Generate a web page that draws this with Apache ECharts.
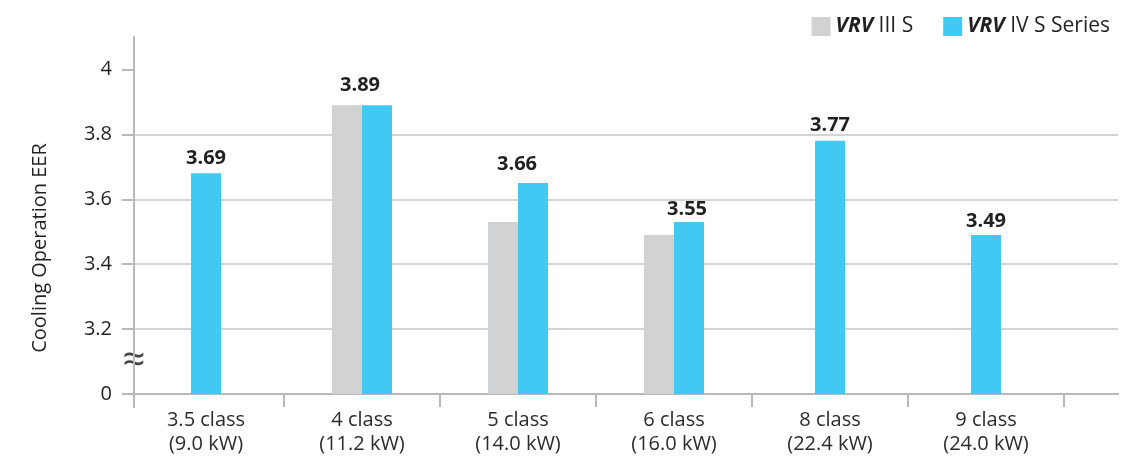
<!DOCTYPE html>
<html lang="en">
<head>
  <meta charset="UTF-8">
  <title>VRV S Cooling EER</title>
  <script src="https://cdn.jsdelivr.net/npm/echarts@6/dist/echarts.min.js"></script>
  <style>html, body { margin: 0; padding: 0; background: #fff; }</style>
</head>
<body>
  <div id="chart" style="width: 1148px; height: 459px"></div>
  <script>
    // data
    const categories = ['3.5 class\n(9.0 kW)', '4 class\n(11.2 kW)', '5 class\n(14.0 kW)', '6 class\n(16.0 kW)', '8 class\n(22.4 kW)', '9 class\n(24.0 kW)']
    const vrv3 = [null, 3.89, 3.53, 3.49, null, null]
    const vrv4 = [3.68, 3.89, 3.65, 3.53, 3.78, 3.49]
    const vrv4Labels = ['3.69', '3.89', '3.66', '3.55', '3.77', '3.49']
    const yTicks = [3.0, 3.2, 3.4, 3.6, 3.8, 4.0]
    const seriesNames = ['VRV III S', 'VRV IV S Series']

    const font = 'Open Sans'
    const grey = '#d1d2d4'
    const blue = '#41c8f3'
    const axisGrey = '#b9b9bd'

    // blue bars sit next to a grey one only where VRV III S has a value
    const paired = vrv4.map((v, i) => vrv3[i] == null ? null : v)
    const single = vrv4.map((v, i) => vrv3[i] == null ? v : null)
    // label nudges so they sit like the original
    const labelShift = [[0, 0], [-17, -5], [-16, -4], [-2, 2], [0, -1], [0, 1]]

    const barLabel = {
      show: true,
      position: 'top',
      distance: 5,
      fontFamily: font,
      fontSize: 20,
      fontWeight: 'bold',
      color: '#231f20',
      formatter: p => vrv4Labels[p.dataIndex]
    }

    const myChart = echarts.init(document.getElementById('chart'))
    const option = {
      animation: false,
      textStyle: { fontFamily: font },
      legend: {
        data: seriesNames,
        right: 33,
        top: 11,
        icon: 'rect',
        itemWidth: 19,
        itemHeight: 19,
        itemGap: 30,
        textStyle: {
          fontSize: 21,
          color: '#231f20',
          rich: { b: { fontSize: 21, fontWeight: 'bold', fontStyle: 'italic', color: '#231f20' } }
        },
        formatter: n => n.replace('VRV', '{b|VRV}')
      },
      grid: [
        { left: 134, right: 30, top: 37, bottom: 65 },
        { left: 128, width: 936, top: 37, bottom: 65 }
      ],
      xAxis: [
        {
          gridIndex: 0, type: 'value', min: 0, max: 1,
          axisLine: { show: true, lineStyle: { color: axisGrey, width: 2 } },
          axisTick: { show: true, length: 14, customValues: [0], lineStyle: { color: axisGrey, width: 2 } },
          axisLabel: { show: false },
          splitLine: { show: false }
        },
        {
          gridIndex: 1, type: 'category', data: categories,
          axisLine: { show: false },
          axisTick: { show: true, length: 13, interval: i => i !== 0, lineStyle: { color: axisGrey, width: 2 } },
          axisLabel: { fontSize: 20, color: '#2b2b2b', lineHeight: 24, margin: 14 }
        },
        { gridIndex: 1, type: 'category', data: categories, show: false }
      ],
      yAxis: [
        {
          gridIndex: 0, type: 'value', min: 3, max: 4.1, interval: 0.2,
          axisLine: { show: true, lineStyle: { color: axisGrey, width: 2 } },
          axisTick: { show: true, length: 12, customValues: yTicks, lineStyle: { color: axisGrey, width: 2 } },
          axisLabel: {
            customValues: yTicks,
            margin: 22,
            fontSize: 20,
            color: '#231f20',
            formatter: v => Math.abs(v - 3) < 1e-6 ? '0' : String(+v.toFixed(1))
          },
          splitLine: { show: true, showMaxLine: false, lineStyle: { color: '#c6c6c6', width: 1.5 } }
        },
        { gridIndex: 1, type: 'value', min: 3, max: 4.1, show: false, splitLine: { show: false } }
      ],
      series: [
        {
          name: seriesNames[0], type: 'bar', xAxisIndex: 1, yAxisIndex: 1,
          barWidth: 30, barGap: 0, itemStyle: { color: grey },
          data: vrv3
        },
        {
          name: seriesNames[1], type: 'bar', xAxisIndex: 1, yAxisIndex: 1,
          barWidth: 30, barGap: 0, itemStyle: { color: blue },
          label: barLabel,
          data: paired.map((v, i) => ({ value: v, label: { offset: labelShift[i] } }))
        },
        {
          name: seriesNames[1], type: 'bar', xAxisIndex: 2, yAxisIndex: 1,
          barWidth: 30, itemStyle: { color: blue },
          label: barLabel,
          data: single.map((v, i) => ({ value: v, label: { offset: labelShift[i] } }))
        }
      ]
    }
    myChart.setOption(option)

    // axis title and the scale-break mark
    const breakY = myChart.convertToPixel({ yAxisIndex: 0 }, 3.1)
    const axisX = myChart.convertToPixel({ xAxisIndex: 0 }, 0)
    myChart.setOption({
      graphic: [
        {
          type: 'text', x: 40, y: 248, rotation: Math.PI / 2,
          style: { text: 'Cooling Operation EER', fontFamily: font, fontSize: 20, fill: '#231f20', align: 'center', verticalAlign: 'middle' }
        },
        {
          type: 'text', x: axisX, y: breakY,
          style: { text: '≈', fontFamily: font, fontSize: 40, fill: '#444', align: 'center', verticalAlign: 'middle' }
        }
      ]
    })
  </script>
</body>
</html>
